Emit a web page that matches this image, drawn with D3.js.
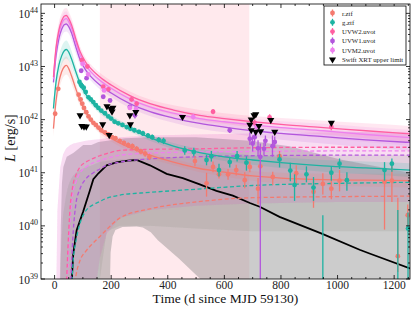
<!DOCTYPE html>
<html>
<head>
<meta charset="utf-8">
<script src="https://cdn.jsdelivr.net/npm/d3@7"></script>
<style>
  body { margin: 0; background: #fff; }
  text { font-family: "Liberation Serif", "DejaVu Serif", serif; }
</style>
</head>
<body>
<svg id="chart" width="415" height="310"></svg>
<script>
// values are log10(L / erg s^-1), days since MJD 59130

// model fits (solid lines) on a common day grid
const modelDays = [-4, 5, 15, 25, 35, 42, 50, 60, 75, 90, 110, 130, 160, 200, 266, 337, 420, 513, 600, 700, 800, 950, 1100, 1256];
const rModel    = [41.83, 42.35, 42.7, 42.9, 43.0, 43.02, 42.96, 42.82, 42.58, 42.36, 42.14, 41.98, 41.8, 41.65, 41.47, 41.33, 41.2, 41.08, 41.01, 40.94, 40.9, 40.87, 40.86, 40.85];
const gModel    = [42.21, 42.7, 43.02, 43.2, 43.3, 43.32, 43.27, 43.14, 42.9, 42.68, 42.48, 42.34, 42.17, 42.02, 41.83, 41.66, 41.5, 41.38, 41.3, 41.24, 41.19, 41.13, 41.09, 41.05];
const uvw2Model = [42.8, 43.35, 43.68, 43.86, 43.95, 43.96, 43.9, 43.78, 43.52, 43.28, 43.08, 42.95, 42.8, 42.65, 42.45, 42.3, 42.18, 42.08, 42.02, 41.96, 41.91, 41.85, 41.79, 41.73];
const uvm2Model = [42.76, 43.3, 43.62, 43.8, 43.89, 43.9, 43.84, 43.72, 43.46, 43.22, 43.02, 42.89, 42.74, 42.59, 42.39, 42.24, 42.12, 42.02, 41.96, 41.9, 41.85, 41.79, 41.72, 41.66];
const uvw1Model = [42.7, 43.2, 43.52, 43.7, 43.79, 43.8, 43.75, 43.63, 43.37, 43.13, 42.93, 42.8, 42.65, 42.5, 42.3, 42.15, 42.03, 41.93, 41.86, 41.79, 41.74, 41.68, 41.62, 41.57];
const uvSpread  = [0.15, 0.15, 0.15, 0.14, 0.14, 0.14, 0.13, 0.13, 0.12, 0.1, 0.08, 0.08, 0.08, 0.08, 0.08, 0.08, 0.09, 0.1, 0.1, 0.11, 0.12, 0.13, 0.14, 0.15];
const optSpread = [0.15, 0.16, 0.17, 0.17, 0.17, 0.17, 0.16, 0.15, 0.12, 0.1, 0.08, 0.07, 0.06, 0.06, 0.06, 0.06, 0.06, 0.07, 0.08, 0.09, 0.1, 0.11, 0.12, 0.13];

// late-time components (dashed lines) on their own grid
const dashDays = [0, 5, 10, 20, 30, 40, 45, 50, 55, 60, 66, 75, 90, 110, 137, 160, 184, 231, 337, 500, 700, 1000, 1256];
const uvw2Dash = [37, 37, 37, 37, 37.5, 38.6, 39.3, 39.9, 40.36, 40.6, 40.8, 40.95, 41.11, 41.2, 41.27, 41.32, 41.36, 41.42, 41.44, 41.45, 41.47, 41.48, 41.48];
const uvm2Dash = [37, 37, 37, 37, 37.3, 38.3, 39.0, 39.6, 40.1, 40.4, 40.65, 40.82, 41.0, 41.1, 41.19, 41.23, 41.27, 41.33, 41.37, 41.39, 41.4, 41.41, 41.41];
const uvw1Dash = [37, 37, 37, 37, 37, 37, 37.3, 37.9, 38.6, 39.3, 39.9, 40.4, 40.7, 40.88, 41.0, 41.07, 41.14, 41.2, 41.26, 41.3, 41.32, 41.33, 41.33];
const gDash    = [37, 37, 37, 37, 37, 37, 37, 37.4, 38.1, 38.8, 39.36, 39.7, 40.05, 40.28, 40.4, 40.46, 40.52, 40.58, 40.63, 40.69, 40.76, 40.8, 40.82];
const rDash    = [37, 37, 37, 37, 37, 37, 37, 37, 37.4, 38.0, 38.7, 39.05, 39.35, 39.52, 39.68, 39.8, 39.93, 40.15, 40.32, 40.45, 40.53, 40.55, 40.56];
const uvDashHi = [37, 38.5, 40.3, 41.1, 41.35, 41.45, 41.48, 41.5, 41.52, 41.53, 41.55, 41.56, 41.58, 41.6, 41.62, 41.63, 41.65, 41.67, 41.7, 41.72, 41.74, 41.76, 41.77];
const uvDashLo = [37, 37, 37, 37, 37, 37, 37, 37, 37, 37, 37, 37, 37, 37.5, 38.5, 39.4, 39.85, 40.15, 40.3, 40.38, 40.42, 40.45, 40.45];
const optDashHi = [37, 37, 37.5, 39.3, 40.2, 40.55, 40.68, 40.78, 40.85, 40.9, 40.95, 41.0, 41.05, 41.1, 41.15, 41.2, 41.22, 41.25, 41.28, 41.3, 41.32, 41.33, 41.33];
const optDashLo = [37, 37, 37, 37, 37, 37, 37, 37, 37, 37, 37, 37, 37, 37, 37, 39.0, 39.9, 40.0, 40.0, 39.95, 39.9, 39.9, 39.9];

// X-ray model (black) and its band (grey)
const xrayModel = [[58, 38.5], [61, 39.0], [66, 39.48], [78, 39.92], [101, 40.27], [125, 40.67], [137, 40.88], [155, 40.99], [184, 41.14], [222, 41.2], [260, 41.23], [290, 41.24], [337, 41.14], [396, 40.98], [453, 40.9], [513, 40.78], [572, 40.66], [630, 40.57], [690, 40.43], [725, 40.36], [795, 40.17], [942, 39.86], [1078, 39.55], [1113, 39.48], [1256, 39.2]];
const xrayBandHi = [[19, 38.5], [22, 40.0], [26, 40.8], [31, 41.11], [43, 41.3], [66, 41.37], [85, 41.45], [101, 41.52], [130, 41.52], [155, 41.58], [250, 41.65], [335, 41.67], [500, 41.67], [690, 41.6], [830, 41.5], [1010, 41.25], [1256, 41.0]];
const xrayBandLo = [[19, 38.5], [194, 38.5], [198, 39.5], [205, 39.8], [215, 39.92], [240, 39.98], [290, 39.99], [312, 39.97], [340, 39.88], [365, 39.73], [440, 39.38], [519, 38.98], [600, 38.6], [1256, 37.5]];

// highlighted interval
const spanDays = [160, 688];

// photometry: [day, logL, err below, err above]
const rPts = [[2, 42.11, 0.03, 0.03], [13, 42.58, 0.03, 0.03], [85, 42.47, 0.03, 0.03], [92, 42.38, 0.03, 0.03], [98, 42.3, 0.03, 0.03], [104, 42.22, 0.03, 0.03], [112, 42.14, 0.03, 0.03], [120, 42.06, 0.03, 0.03], [128, 42.0, 0.03, 0.03], [137, 41.94, 0.03, 0.03], [146, 41.9, 0.03, 0.03], [155, 41.85, 0.03, 0.03], [165, 41.8, 0.03, 0.03], [178, 41.76, 0.03, 0.03], [190, 41.72, 0.04, 0.04], [203, 41.67, 0.04, 0.04], [215, 41.65, 0.04, 0.04], [230, 41.6, 0.04, 0.04], [245, 41.56, 0.04, 0.04], [260, 41.52, 0.05, 0.05], [275, 41.5, 0.05, 0.05], [290, 41.45, 0.05, 0.05], [305, 41.4, 0.05, 0.05], [320, 41.36, 0.06, 0.06], [335, 41.3, 0.06, 0.06],
  [496, 41.22, 0.1, 0.1], [537, 40.8, 0.25, 0.2], [560, 41.11, 0.1, 0.1], [581, 40.97, 0.08, 0.08], [613, 40.97, 0.1, 0.1], [642, 41.05, 0.1, 0.1], [672, 40.86, 0.15, 0.15], [690, 41.11, 0.1, 0.1], [719, 40.7, 0.3, 0.2], [727, 41.12, 0.15, 0.1], [771, 40.92, 0.15, 0.1], [795, 41.31, 0.15, 0.1], [854, 40.99, 0.2, 0.15], [915, 40.64, 0.3, 0.2], [948, 40.79, 0.2, 0.2], [978, 40.7, 0.2, 0.15], [1007, 40.85, 0.2, 0.2], [1166, 40.83, 0.9, 0.25], [1192, 40.85, 0.4, 0.3], [1213, 39.43, 0.3, 1.1], [1248, 40.2, 0.2, 0.2]];
const gPts = [[88, 42.71, 0.03, 0.03], [93, 42.66, 0.03, 0.03], [97, 42.63, 0.03, 0.03], [103, 42.6, 0.03, 0.03], [110, 42.52, 0.03, 0.03], [120, 42.42, 0.03, 0.03], [128, 42.38, 0.03, 0.03], [137, 42.33, 0.03, 0.03], [146, 42.27, 0.03, 0.03], [155, 42.22, 0.03, 0.03], [165, 42.17, 0.03, 0.03], [178, 42.12, 0.03, 0.03], [190, 42.06, 0.03, 0.03], [200, 42.02, 0.03, 0.03], [212, 41.96, 0.03, 0.03], [225, 41.93, 0.03, 0.03], [240, 41.9, 0.04, 0.04], [255, 41.86, 0.04, 0.04], [268, 41.83, 0.04, 0.04], [282, 41.8, 0.04, 0.04], [298, 41.77, 0.04, 0.04], [312, 41.74, 0.05, 0.05], [330, 41.7, 0.05, 0.05], [345, 41.67, 0.05, 0.05], [368, 41.62, 0.05, 0.05], [385, 41.6, 0.06, 0.06], [460, 41.42, 0.08, 0.08],
  [492, 41.39, 0.08, 0.08], [537, 41.24, 0.1, 0.1], [554, 41.31, 0.1, 0.1], [581, 41.05, 0.12, 0.12], [619, 41.2, 0.1, 0.1], [645, 41.31, 0.1, 0.1], [678, 41.19, 0.15, 0.12], [795, 41.25, 0.15, 0.1], [833, 41.04, 0.2, 0.15], [848, 40.77, 0.3, 0.2], [890, 40.97, 0.15, 0.15], [915, 40.72, 0.25, 0.2], [948, 38.8, 0.5, 1.4], [978, 41.0, 0.15, 0.12], [1007, 41.17, 0.1, 0.1], [1033, 40.86, 0.2, 0.15], [1166, 41.05, 0.2, 0.15], [1192, 41.17, 0.15, 0.1], [1213, 38.8, 0.5, 1.5], [1249, 39.95, 1.5, 0.3]];
const uvw2Pts = [[96, 43.12, 0.03, 0.03], [116, 43.0, 0.03, 0.03], [172, 42.62, 0.03, 0.03], [190, 42.57, 0.03, 0.03], [272, 42.38, 0.04, 0.04], [290, 42.3, 0.04, 0.04], [560, 42.15, 0.05, 0.05], [707, 41.94, 0.06, 0.06], [760, 42.04, 0.06, 0.06], [978, 41.86, 0.06, 0.06]];
const uvw1Pts = [[94, 42.92, 0.03, 0.03], [113, 42.78, 0.03, 0.03], [172, 42.43, 0.03, 0.03], [196, 42.36, 0.03, 0.03], [266, 42.24, 0.04, 0.04], [284, 42.08, 0.06, 0.06], [619, 41.8, 0.05, 0.05], [690, 41.64, 0.12, 0.12], [700, 41.55, 0.15, 0.15], [707, 41.67, 0.1, 0.1], [719, 41.46, 0.15, 0.15], [727, 41.3, 3.5, 0.25], [740, 41.45, 0.12, 0.12], [745, 41.6, 0.1, 0.1], [770, 41.5, 0.2, 0.2], [778, 41.58, 0.1, 0.1]];
const uvm2Pts = [[99, 43.05, 0.03, 0.03], [119, 42.85, 0.03, 0.03], [175, 42.55, 0.03, 0.03], [266, 42.22, 0.04, 0.04], [288, 42.2, 0.04, 0.04], [490, 42.05, 0.05, 0.05], [713, 41.86, 0.08, 0.08]];
// Swift XRT upper limits: [day, logL]
const xrtLimits = [[90, 42.08], [96, 41.88], [104, 41.87], [112, 41.87], [170, 41.91], [185, 42.25], [193, 41.71], [199, 42.2], [203, 42.15], [206, 42.22], [266, 42.08], [268, 41.91], [287, 42.14], [452, 42.05], [690, 41.9], [695, 42.0], [695, 41.8], [705, 42.08], [711, 42.1], [711, 41.77], [722, 41.88], [728, 41.78], [764, 41.99], [778, 41.77], [978, 41.94]];

const xTicks = [0, 200, 400, 600, 800, 1000, 1200];
const yDecades = [39, 40, 41, 42, 43, 44];

const colors = { r: "#f47a6f", g: "#1db3a2", uvw2: "#ff5ea0", uvw1: "#b256dc", uvm2: "#ee80ee" };

const svg = d3.select("#chart");
const pLeft = 41, pRight = 410, pTop = 4, pBottom = 279;

const x = d3.scaleLinear().domain([-48, 1256]).range([pLeft, pRight]);
const y = d3.scaleLog().domain([1e39, 1.5e44]).range([pBottom, pTop]);
const L = v => Math.pow(10, v);

svg.append("clipPath").attr("id", "plot")
  .append("rect").attr("x", pLeft).attr("y", pTop).attr("width", pRight - pLeft).attr("height", pBottom - pTop);
const g = svg.append("g").attr("clip-path", "url(#plot)");

// shaded interval
g.append("rect")
  .attr("x", x(spanDays[0])).attr("y", pTop)
  .attr("width", x(spanDays[1]) - x(spanDays[0])).attr("height", pBottom - pTop)
  .attr("fill", "pink").attr("opacity", 0.35);

// grey X-ray band
const poly = d3.line().x(d => x(d[0])).y(d => y(L(d[1])));
g.append("path")
  .attr("d", poly(xrayBandHi.concat(xrayBandLo.slice().reverse())) + "Z")
  .attr("fill", "#808080").attr("opacity", 0.4);

// shaded bands, straight segments between the read-off points
function band(days, lo, hi, color, op, smooth) {
  const a = d3.area().curve(smooth ? d3.curveMonotoneX : d3.curveLinear)
    .x((d, i) => x(days[i]))
    .y0((d, i) => y(L(lo[i])))
    .y1((d, i) => y(L(hi[i])));
  g.append("path").attr("d", a(days)).attr("fill", color).attr("opacity", op);
}
band(dashDays, uvDashLo, uvDashHi, colors.uvw2, 0.09, false);
band(dashDays, uvDashLo, uvDashHi, colors.uvm2, 0.07, false);
band(dashDays, uvDashLo, uvDashHi, colors.uvw1, 0.07, false);
band(dashDays, optDashLo, optDashHi, colors.g, 0.1, false);
band(dashDays, optDashLo, optDashHi, colors.r, 0.1, false);

// bands of the full models
const models = [
  { m: rModel, s: optSpread, c: colors.r },
  { m: gModel, s: optSpread, c: colors.g },
  { m: uvw1Model, s: uvSpread, c: colors.uvw1 },
  { m: uvm2Model, s: uvSpread, c: colors.uvm2 },
  { m: uvw2Model, s: uvSpread, c: colors.uvw2 }
];
models.forEach(o => {
  band(modelDays, o.m.map((v, i) => v - o.s[i]), o.m.map((v, i) => v + o.s[i]), o.c, 0.15, true);
});

// black X-ray model
g.append("path")
  .attr("d", poly(xrayModel))
  .attr("fill", "none").attr("stroke", "#000").attr("stroke-width", 1.8);

// dashed late components
function curve(days, vals, color, dash) {
  const ln = d3.line().curve(d3.curveMonotoneX)
    .x((d, i) => x(days[i])).y((d, i) => y(L(vals[i])));
  g.append("path").attr("d", ln(days))
    .attr("fill", "none").attr("stroke", color).attr("stroke-width", 1.3)
    .attr("stroke-dasharray", dash);
}
curve(dashDays, rDash, colors.r, "4,2.5");
curve(dashDays, gDash, colors.g, "4,2.5");
curve(dashDays, uvw1Dash, colors.uvw1, "4,2.5");
curve(dashDays, uvm2Dash, colors.uvm2, "4,2.5");
curve(dashDays, uvw2Dash, colors.uvw2, "4,2.5");

models.forEach(o => curve(modelDays, o.m, o.c, null));

// data points with error bars
function points(data, color) {
  const grp = g.append("g");
  grp.selectAll("line").data(data).join("line")
    .attr("x1", d => x(d[0])).attr("x2", d => x(d[0]))
    .attr("y1", d => y(L(d[1] - d[2]))).attr("y2", d => y(L(d[1] + d[3])))
    .attr("stroke", color).attr("stroke-width", 1.3);
  grp.selectAll("circle").data(data).join("circle")
    .attr("cx", d => x(d[0])).attr("cy", d => y(L(d[1])))
    .attr("r", 2.4).attr("fill", color);
}
points(rPts, colors.r);
points(gPts, colors.g);
points(uvw2Pts, colors.uvw2);
points(uvw1Pts, colors.uvw1);
points(uvm2Pts, colors.uvm2);

const tri = d3.symbol(d3.symbolTriangle, 22);
g.selectAll("path.lim").data(xrtLimits).join("path")
  .attr("class", "lim")
  .attr("d", tri)
  .attr("transform", d => `translate(${x(d[0])},${y(L(d[1]))}) rotate(180)`)
  .attr("fill", "#000");

// frame and ticks
const ax = svg.append("g").attr("stroke", "#000").attr("stroke-width", 0.8);
ax.append("rect").attr("x", pLeft).attr("y", pTop).attr("width", pRight - pLeft).attr("height", pBottom - pTop).attr("fill", "none");

const minorX = d3.range(-0, 1256, 50).filter(v => v % 200 !== 0);
xTicks.forEach(t => {
  ax.append("line").attr("x1", x(t)).attr("x2", x(t)).attr("y1", pBottom).attr("y2", pBottom - 4);
  ax.append("line").attr("x1", x(t)).attr("x2", x(t)).attr("y1", pTop).attr("y2", pTop + 4);
});
minorX.forEach(t => {
  ax.append("line").attr("x1", x(t)).attr("x2", x(t)).attr("y1", pBottom).attr("y2", pBottom - 2);
  ax.append("line").attr("x1", x(t)).attr("x2", x(t)).attr("y1", pTop).attr("y2", pTop + 2);
});
y.ticks().forEach(t => {
  const major = Math.abs(Math.log10(t) - Math.round(Math.log10(t))) < 1e-6;
  const len = major ? 4 : 2;
  ax.append("line").attr("x1", pLeft).attr("x2", pLeft + len).attr("y1", y(t)).attr("y2", y(t));
  ax.append("line").attr("x1", pRight).attr("x2", pRight - len).attr("y1", y(t)).attr("y2", y(t));
});

svg.selectAll("text.xt").data(xTicks).join("text")
  .attr("class", "xt")
  .attr("x", d => x(d)).attr("y", 289)
  .attr("text-anchor", "middle").attr("font-size", 11.5)
  .attr("fill", "#222").text(d => d);

yDecades.forEach(p => {
  const t = svg.append("text")
    .attr("x", 38).attr("y", y(L(p)) + 4.5)
    .attr("text-anchor", "end").attr("font-size", 11.5).attr("fill", "#222");
  t.append("tspan").text("10");
  t.append("tspan").attr("dy", -5).attr("font-size", 8).text(p);
});

svg.append("text")
  .attr("x", (pLeft + pRight) / 2).attr("y", 303)
  .attr("text-anchor", "middle").attr("font-size", 13.5).attr("fill", "#111")
  .text("Time (d since MJD 59130)");

const yl = svg.append("text")
  .attr("transform", "translate(14.5,138) rotate(-90)")
  .attr("text-anchor", "middle").attr("font-size", 14).attr("fill", "#111");
yl.append("tspan").attr("font-style", "italic").text("L");
yl.append("tspan").text(" [erg/s]");

// legend
const legendItems = [
  { label: "r.ztf", c: colors.r },
  { label: "g.ztf", c: colors.g },
  { label: "UVW2.uvot", c: colors.uvw2 },
  { label: "UVW1.uvot", c: colors.uvw1 },
  { label: "UVM2.uvot", c: colors.uvm2 },
  { label: "Swift XRT upper limit", c: "#000", lim: true }
];
const lg = svg.append("g");
lg.append("rect").attr("x", 324).attr("y", 6).attr("width", 82).attr("height", 59)
  .attr("fill", "#fff").attr("stroke", "#000").attr("stroke-width", 0.8);
legendItems.forEach((d, i) => {
  const ly = 13 + i * 9.3;
  if (d.lim) {
    lg.append("path").attr("d", tri).attr("transform", `translate(332.5,${ly}) rotate(180)`).attr("fill", "#000");
  } else {
    lg.append("line").attr("x1", 332.5).attr("x2", 332.5).attr("y1", ly - 3.5).attr("y2", ly + 3.5)
      .attr("stroke", d.c).attr("stroke-width", 1.3);
    lg.append("circle").attr("cx", 332.5).attr("cy", ly).attr("r", 2.4).attr("fill", d.c);
  }
  lg.append("text").attr("x", 342).attr("y", ly + 2.5).attr("font-size", 6.8).attr("fill", "#222").text(d.label);
});
</script>
</body>
</html>
